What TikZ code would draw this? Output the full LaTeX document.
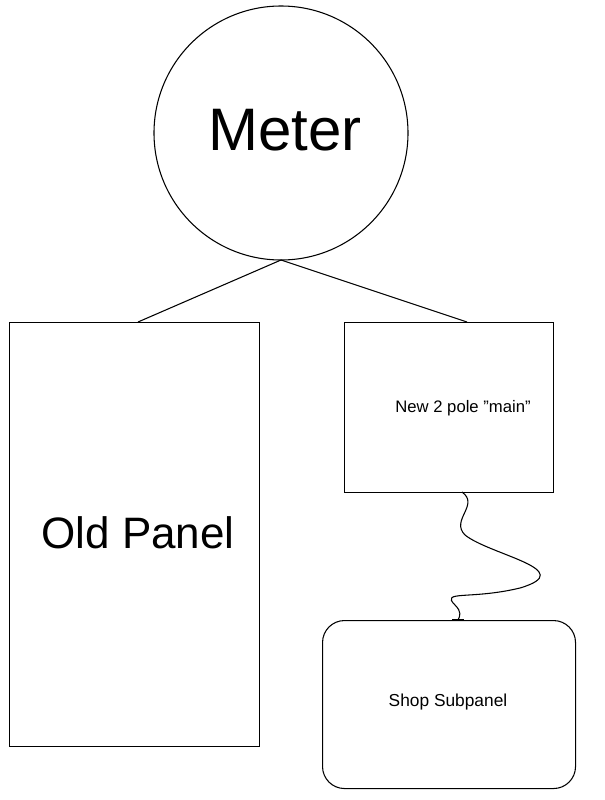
\documentclass[tikz,border=0pt]{standalone}
\usepackage{fontspec}
\setmainfont{Liberation Sans}
\begin{document}
\begin{tikzpicture}[x=0.75pt,y=-0.75pt,
  box/.style={draw,line width=0.8pt,inner sep=0pt,anchor=north west},
  wire/.style={line width=0.8pt}]
\useasboundingbox[fill=white] (0,0) rectangle (604,800);
\node[draw,circle,line width=0.8pt,minimum size=254*0.75pt] (meter) at (281,133) {};
\node at (285,130) {\fontsize{45}{50}\selectfont Meter};
\node[box,minimum width=250*0.75pt,minimum height=424*0.75pt] (old) at (9,322) {};
\node at (138,533) {\fontsize{33}{38}\selectfont Old Panel};
\node[box,minimum width=209*0.75pt,minimum height=170*0.75pt] (new) at (344,322) {};
\node at (463,408) {\fontsize{12.5}{14}\selectfont New 2 pole \symbol{34}main\symbol{34}};
\node[box,rounded corners=22*0.75pt,minimum width=253*0.75pt,minimum height=168*0.75pt] (shop) at (322,620) {};
\node at (448,702) {\fontsize{13}{15}\selectfont Shop Subpanel};
\coordinate (mb) at (281,260);
\draw[wire] (mb) -- (138,322);
\draw[wire] (mb) -- (467,322);
\draw[wire] (462,492) .. controls (480,505) and (450,520) .. (465,535)
  .. controls (490,555) and (580,570) .. (520,588)
  .. controls (470,600) and (440,590) .. (455,605)
  .. controls (462,612) and (460,616) .. (458,620);
\draw[line width=1.5pt] (452,620) -- (464,620);
\end{tikzpicture}
\end{document}
